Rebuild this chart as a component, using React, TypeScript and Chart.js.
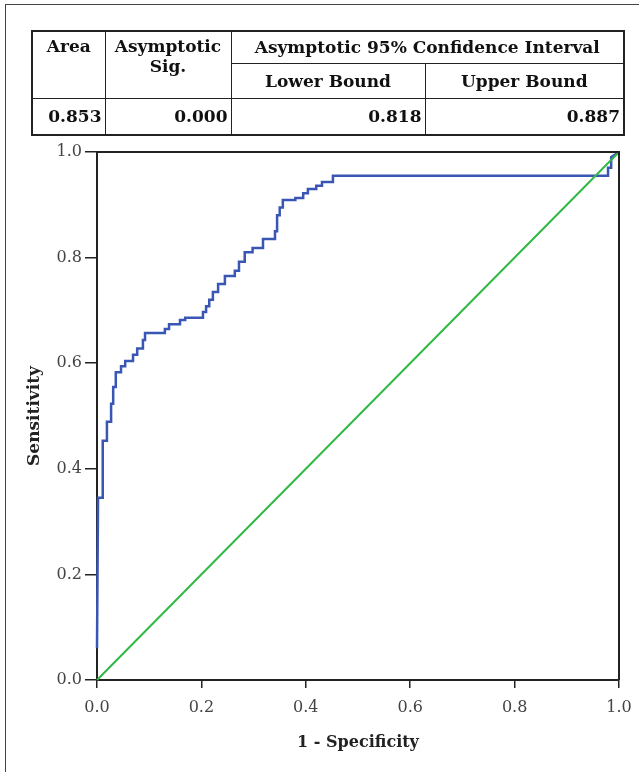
import React, { useEffect, useRef } from "react";
import { Chart, registerables } from "chart.js";
Chart.register(...registerables);

// ROC curve (1 - specificity, sensitivity)
const fpr = [
  0.0, 0.002, 0.011, 0.011, 0.019, 0.019, 0.027, 0.027, 0.031, 0.031, 0.036, 0.036,
  0.046, 0.046, 0.054, 0.054, 0.069, 0.069, 0.077, 0.077, 0.088, 0.088, 0.092, 0.092,
  0.13, 0.13, 0.138, 0.138, 0.159, 0.159, 0.169, 0.169, 0.203, 0.203, 0.209, 0.209,
  0.215, 0.215, 0.222, 0.222, 0.232, 0.232, 0.245, 0.245, 0.264, 0.264, 0.272, 0.272,
  0.283, 0.283, 0.298, 0.298, 0.318, 0.318, 0.341, 0.341, 0.345, 0.345, 0.35, 0.35,
  0.356, 0.356, 0.38, 0.38, 0.395, 0.395, 0.404, 0.404, 0.42, 0.42, 0.431, 0.431,
  0.452, 0.452, 0.979, 0.979, 0.985, 0.985, 1.0,
];
const sensitivity = [
  0.06, 0.345, 0.345, 0.453, 0.453, 0.489, 0.489, 0.523, 0.523, 0.555, 0.555, 0.583,
  0.583, 0.594, 0.594, 0.604, 0.604, 0.616, 0.616, 0.628, 0.628, 0.644, 0.644, 0.657,
  0.657, 0.665, 0.665, 0.674, 0.674, 0.682, 0.682, 0.686, 0.686, 0.697, 0.697, 0.708,
  0.708, 0.72, 0.72, 0.735, 0.735, 0.75, 0.75, 0.765, 0.765, 0.775, 0.775, 0.792,
  0.792, 0.81, 0.81, 0.818, 0.818, 0.835, 0.835, 0.85, 0.85, 0.88, 0.88, 0.895,
  0.895, 0.909, 0.909, 0.913, 0.913, 0.922, 0.922, 0.93, 0.93, 0.936, 0.936, 0.943,
  0.943, 0.955, 0.955, 0.97, 0.97, 0.99, 1.0,
];
const refX = [0, 1];
const refY = [0, 1];

const xTitle = "1 - Specificity";
const yTitle = "Sensitivity";

const headArea = "Area";
const headSig1 = "Asymptotic";
const headSig2 = "Sig.";
const headCI = "Asymptotic 95% Confidence Interval";
const headLower = "Lower Bound";
const headUpper = "Upper Bound";
const rowValues = ["0.853", "0.000", "0.818", "0.887"];

const framePlugin = {
  id: "frame",
  afterDatasetsDraw(chart: any) {
    const { ctx, chartArea } = chart;
    ctx.save();
    ctx.strokeStyle = "#222";
    ctx.lineWidth = 2;
    ctx.beginPath();
    ctx.moveTo(chartArea.left, chartArea.top);
    ctx.lineTo(chartArea.right, chartArea.top);
    ctx.lineTo(chartArea.right, chartArea.bottom);
    ctx.stroke();
    ctx.restore();
  },
};

const tickFont = { family: "'DejaVu Serif', serif", size: 16 };
const xTitleFont = { family: "'DejaVu Serif', serif", size: 16, weight: "bold" as const };
const yTitleFont = { family: "'DejaVu Serif', serif", size: 17, weight: "bold" as const };

export default function App() {
  const ref = useRef<HTMLCanvasElement>(null);
  useEffect(() => {
    if (!ref.current) return;
    const chart = new Chart(ref.current, {
      type: "scatter",
      data: {
        datasets: [
          {
            data: refX.map((x, i) => ({ x, y: refY[i] })),
            showLine: true,
            borderColor: "#2fb944",
            borderWidth: 2,
            pointRadius: 0,
            clip: false as any,
          },
          {
            data: fpr.map((x, i) => ({ x, y: sensitivity[i] })),
            showLine: true,
            borderColor: "#3a56b5",
            borderWidth: 2.5,
            pointRadius: 0,
            clip: false as any,
          },
        ],
      },
      options: {
        responsive: false,
        animation: false,
        devicePixelRatio: 1,
        layout: { padding: { top: 152, right: 20, bottom: 16, left: 20 } },
        plugins: { legend: { display: false }, tooltip: { enabled: false } },
        scales: {
          x: {
            type: "linear",
            min: 0,
            max: 1,
            afterFit: (s: any) => {
              s.height = 76;
              s.paddingLeft = 0;
              s.paddingRight = 0;
            },
            ticks: {
              stepSize: 0.2,
              callback: (v: any) => Number(v).toFixed(1),
              font: tickFont,
              color: "#444",
              padding: 10,
              maxRotation: 0,
            },
            grid: { drawOnChartArea: false, drawTicks: true, tickLength: 8, color: "#222", lineWidth: 1.5 },
            border: { color: "#222", width: 2 },
            title: { display: true, text: xTitle, font: xTitleFont, color: "#222", padding: 4 },
          },
          y: {
            type: "linear",
            min: 0,
            max: 1,
            afterFit: (s: any) => {
              s.width = 77;
              s.paddingTop = 0;
              s.paddingBottom = 0;
            },
            ticks: {
              stepSize: 0.2,
              callback: (v: any) => Number(v).toFixed(1),
              font: tickFont,
              color: "#444",
              padding: 3,
            },
            grid: { drawOnChartArea: false, drawTicks: true, tickLength: 12, color: "#222", lineWidth: 1.5 },
            border: { color: "#222", width: 2 },
            title: { display: true, text: yTitle, font: yTitleFont, color: "#222", padding: 4 },
          },
        },
      },
      plugins: [framePlugin],
    });
    return () => chart.destroy();
  }, []);

  const cell: React.CSSProperties = {
    border: "1.5px solid #222",
    padding: "0 5px",
    fontFamily: "'DejaVu Serif', serif",
    fontWeight: "bold",
    fontSize: 17,
    color: "#111",
    lineHeight: "20px",
    whiteSpace: "nowrap",
  };

  return (
    <div style={{ position: "absolute", left: 0, top: 0, width: 639, height: 772, background: "#fff", overflow: "hidden" }}>
      <div
        style={{
          position: "absolute",
          left: 5,
          top: 4,
          width: 700,
          height: 800,
          borderLeft: "1.5px solid #444",
          borderTop: "1.5px solid #444",
        }}
      />
      <canvas ref={ref} width={639} height={772} style={{ position: "absolute", left: 0, top: 0, width: 639, height: 772 }} />
      <table
        style={{
          position: "absolute",
          left: 31,
          top: 30,
          width: 592,
          borderCollapse: "collapse",
          tableLayout: "fixed",
          border: "2px solid #222",
        }}
      >
        <colgroup>
          <col style={{ width: 73 }} />
          <col style={{ width: 126 }} />
          <col style={{ width: 194 }} />
          <col style={{ width: 199 }} />
        </colgroup>
        <tbody>
          <tr style={{ height: 32 }}>
            <td rowSpan={2} style={{ ...cell, textAlign: "center", verticalAlign: "top", paddingTop: 4 }}>{headArea}</td>
            <td rowSpan={2} style={{ ...cell, textAlign: "center", verticalAlign: "top", paddingTop: 4 }}>
              {headSig1}
              <br />
              {headSig2}
            </td>
            <td colSpan={2} style={{ ...cell, textAlign: "center" }}>{headCI}</td>
          </tr>
          <tr style={{ height: 35 }}>
            <td style={{ ...cell, textAlign: "center" }}>{headLower}</td>
            <td style={{ ...cell, textAlign: "center" }}>{headUpper}</td>
          </tr>
          <tr style={{ height: 37 }}>
            {rowValues.map((v, i) => (
              <td key={i} style={{ ...cell, textAlign: "right", padding: "0 3px" }}>{v}</td>
            ))}
          </tr>
        </tbody>
      </table>
    </div>
  );
}
